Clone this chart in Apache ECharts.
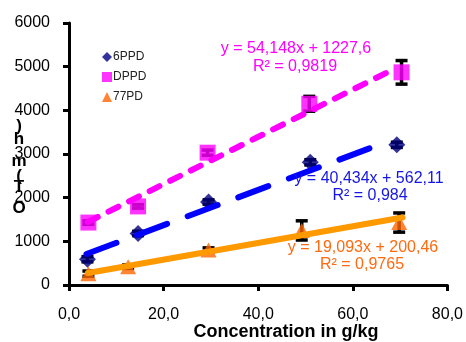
<!DOCTYPE html>
<html><head><meta charset="utf-8">
<script src="https://cdn.jsdelivr.net/npm/echarts@6/dist/echarts.min.js"></script>
<style>html,body{margin:0;padding:0;background:#fff}#c{width:466px;height:342px}</style>
</head><body><div id="c"></div>
<script>
// Data
const xTicks = ['0,0','20,0','40,0','60,0','80,0'];
const ppd6X = [3.9, 14.6, 29.5, 51.0, 69.3];
const ppd6Y = [590, 1180, 1900, 2810, 3210];
const ppd6Err = [60, 50, 50, 60, 60];
const dppdX = [4.1, 14.6, 29.3, 50.8, 70.3];
const dppdY = [1430, 1800, 3030, 4150, 4870];
const dppdErr = [40, 40, 60, 170, 270];
const pd77X = [4.1, 12.5, 29.5, 49.2, 69.8];
const pd77Y = [260, 420, 800, 1250, 1430];
const pd77Err = [60, 40, 50, 220, 220];
// trend line end points
const ppd6TrendX = [3.7, 67.5];
const ppd6TrendY = [710, 3290];
const dppdTrendX = [4.0, 68.5];
const dppdTrendY = [1445, 4935];
const pd77TrendX = [4.0, 70.5];
const pd77TrendY = [276, 1546];

const eqDppd = ['y = 54,148x + 1227,6', 'R\u00B2 = 0,9819'];
const eq6ppd = ['y = 40,434x + 562,11', 'R\u00B2 = 0,984'];
const eq77pd = ['y = 19,093x + 200,46', 'R\u00B2 = 0,9765'];
const xTitle = 'Concentration in g/kg';
const yTitleChars = [')', 'h', 'm', '(', 'T', 'O'];

function pts(xs, ys){ return xs.map((x,i)=>[x, ys[i]]); }
function errs(xs, ys, es){ return xs.map((x,i)=>[x, ys[i]-es[i], ys[i]+es[i]]); }

const chart = echarts.init(document.getElementById('c'));
const font = 'Liberation Sans, Arial, sans-serif';

function errSeries(data){
  return {
    type:'custom', silent:true, z:1,
    data: data,
    renderItem: function(params, api){
      const x = api.value(0);
      const lo = api.coord([x, api.value(1)]);
      const hi = api.coord([x, api.value(2)]);
      const w = 6;
      const st = {stroke:'#000', lineWidth:3.5};
      return {type:'group', children:[
        {type:'line', shape:{x1:lo[0],y1:lo[1],x2:hi[0],y2:hi[1]}, style:st},
        {type:'line', shape:{x1:lo[0]-w,y1:lo[1],x2:lo[0]+w,y2:lo[1]}, style:st},
        {type:'line', shape:{x1:hi[0]-w,y1:hi[1],x2:hi[0]+w,y2:hi[1]}, style:st}
      ]};
    }
  };
}

function txt(x, y, s, color, size, weight){
  return {type:'text', x:x, y:y, z:100, silent:true,
    style:{text:s, fontFamily:font, fontSize:size, fontWeight:weight||'normal', fill:color,
      align:'center', verticalAlign:'middle', textAlign:'center', textVerticalAlign:'middle'}};
}

const graphics = [
  txt(296, 49, eqDppd[0], '#FF00FF', 16),
  txt(295, 67, eqDppd[1], '#FF00FF', 16),
  txt(369, 179, eq6ppd[0], '#1515E8', 16),
  txt(370, 196, eq6ppd[1], '#1515E8', 16),
  txt(363, 248, eq77pd[0], '#FF6A10', 16),
  txt(362, 265, eq77pd[1], '#FF6A10', 16),
  txt(286, 332, xTitle, '#000', 18, 'bold')
];
const yTitleY = [126, 139, 161, 176, 187, 208];
yTitleChars.forEach((c,i)=>graphics.push(txt(19, yTitleY[i], c, '#000', 17, 'bold')));

const option = {
  animation:false,
  backgroundColor:'#fff',
  grid:{left:69, right:17, top:23, bottom:57, containLabel:false},
  legend:{
    orient:'vertical', left:97, top:46, itemGap:8, itemWidth:10, itemHeight:10,
    data:[{name:'6PPD', icon:'diamond'},{name:'DPPD', icon:'rect'},{name:'77PD', icon:'triangle'}],
    textStyle:{fontFamily:font, fontSize:12, color:'#222', padding:[0,0,0,-4]}
  },
  xAxis:{
    type:'value', min:0, max:80, interval:20,
    axisLine:{show:true, lineStyle:{color:'#000', width:3}},
    axisTick:{show:true, inside:false, length:6, lineStyle:{color:'#000', width:3}},
    axisLabel:{margin:22, fontFamily:font, fontSize:16, color:'#000',
      formatter:(v)=>xTicks[Math.round(v/20)]},
    splitLine:{show:false}
  },
  yAxis:{
    type:'value', min:0, max:6000, interval:1000,
    axisLine:{show:true, lineStyle:{color:'#000', width:3}},
    axisTick:{show:true, inside:false, length:6, lineStyle:{color:'#000', width:3}},
    axisLabel:{margin:19, fontFamily:font, fontSize:16, color:'#000', formatter:(v)=>String(v)},
    splitLine:{show:false}
  },
  graphic:graphics,
  series:[
    errSeries(errs(dppdX, dppdY, dppdErr)),
    errSeries(errs(ppd6X, ppd6Y, ppd6Err)),
    errSeries(errs(pd77X, pd77Y, pd77Err)),
    {name:'DPPD', type:'scatter', symbol:'rect', symbolSize:16, z:2, data:pts(dppdX, dppdY), itemStyle:{color:'#FF00FF'}},
    {name:'6PPD', type:'scatter', symbol:'diamond', symbolSize:[17,17], z:2, data:pts(ppd6X, ppd6Y), itemStyle:{color:'#000080'}},
    {name:'77PD', type:'scatter', symbol:'triangle', symbolSize:[16,15], z:2, data:pts(pd77X, pd77Y), itemStyle:{color:'#FF6600'}},
    {name:'dppdTrend', type:'line', data:pts(dppdTrendX, dppdTrendY), showSymbol:false, symbol:'none', z:3,
      lineStyle:{color:'#FF00FF', width:6, type:[11,12], cap:'round'}},
    {name:'ppd6Trend', type:'line', data:pts(ppd6TrendX, ppd6TrendY), showSymbol:false, symbol:'none', z:3,
      lineStyle:{color:'#0000FF', width:6, type:[32,22], cap:'round'}},
    {name:'pd77Trend', type:'line', data:pts(pd77TrendX, pd77TrendY), showSymbol:false, symbol:'none', z:3,
      lineStyle:{color:'#FF9900', width:6, type:'solid', cap:'round'}}
  ]
};
chart.setOption(option);
</script></body></html>
